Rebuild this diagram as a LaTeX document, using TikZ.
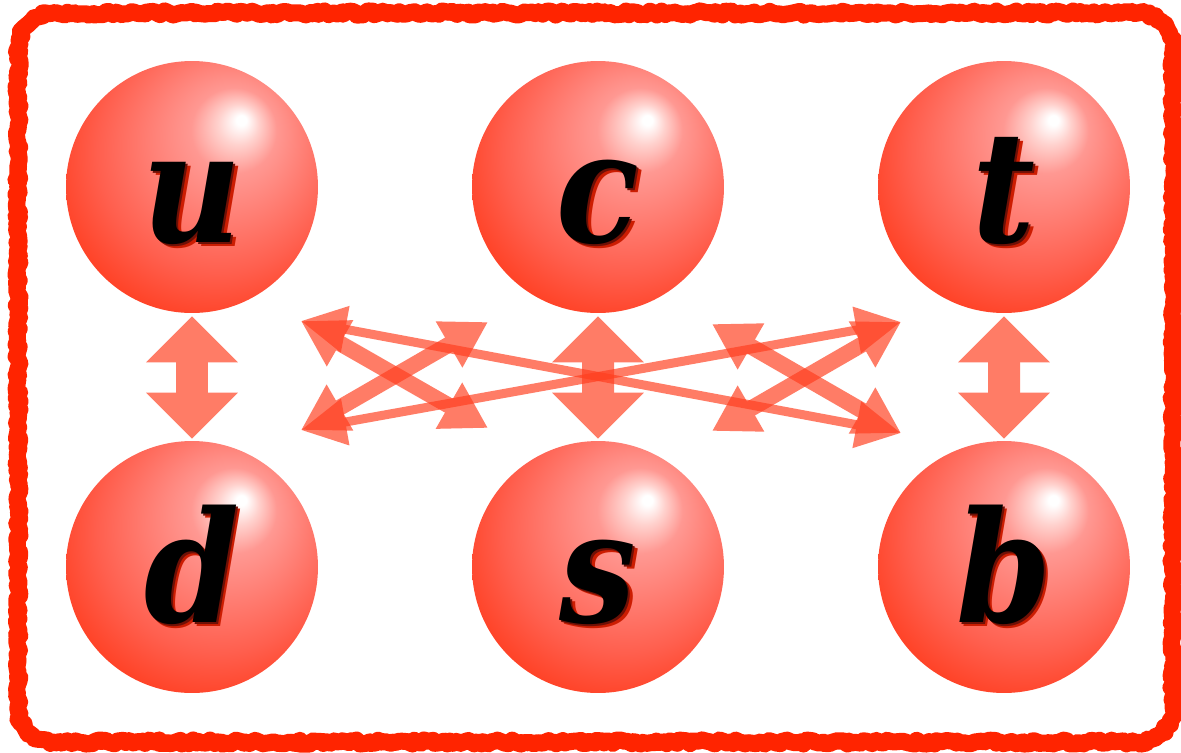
\documentclass[tikz,border=0pt]{standalone}
\usepackage{fontspec}
\usetikzlibrary{arrows.meta, decorations.pathmorphing}
\newfontfamily\quarkfont{DejaVu Serif}[FakeStretch=0.88]
\definecolor{qred}{RGB}{255,36,0}
\definecolor{qarrow}{RGB}{255,62,30}
\definecolor{qshade}{RGB}{110,16,6}
\pgfdeclareradialshading{quarkball}{\pgfpoint{10bp}{13.5bp}}{%
  color(0bp)=(white); color(1bp)=(white); color(4bp)=(rgb,255:red,255;green,210;blue,206);
  color(8.5bp)=(rgb,255:red,255;green,152;blue,146);
  color(15bp)=(rgb,255:red,255;green,128;blue,118); color(24bp)=(rgb,255:red,255;green,95;blue,78);
  color(33bp)=(rgb,255:red,255;green,60;blue,30); color(42bp)=(qred); color(50bp)=(qred)}
\newcommand{\qlbl}[1]{%
  \makebox[0pt][l]{\kern0.09cm\raisebox{-0.09cm}{\color{qshade!35!qred}#1}}%
  \makebox[0pt][l]{\kern0.045cm\raisebox{-0.045cm}{\color{qshade}#1}}#1}

\begin{document}
\begin{tikzpicture}[x=0.02cm, y=-0.02cm,
    quark/.style={circle, inner sep=0pt, minimum size=5.04cm, shading=quarkball,
                  font=\quarkfont\bfseries\itshape\fontsize{88}{88}\selectfont,
                  text height=2.2cm, text depth=0pt},
    frame/.style={draw=qred, line width=0.28cm, line join=round,
                  decorate, decoration={random steps, segment length=2pt, amplitude=1.2pt}},
    vmix/.style={qarrow, line width=0.64cm, shorten <=0.06cm, shorten >=0.04cm,
                 {Triangle[width=1.78cm, length=0.92cm]}-{Triangle[width=1.78cm, length=0.92cm]}},
    bigmix/.style={qarrow, line width=0.32cm,
                 {Triangle[width=1.0cm, length=0.9cm]}-{Triangle[width=1.0cm, length=0.9cm]}},
    smallmix/.style={qarrow, line width=0.18cm,
                 {Triangle[width=0.9cm, length=0.9cm]}-{Triangle[width=0.9cm, length=0.9cm]}}
  ]
  \useasboundingbox (0,0) rectangle (1181,752);
  \fill[white] (0,0) rectangle (1181,752);
  % -- frame --
  \foreach \w/\seg in {0.34cm/2pt, 0.24cm/3pt}{
    \draw[frame, line width=\w, decoration={segment length=\seg}]
      (53,13) -- (1138,13) arc[start angle=90, end angle=0, radius=0.7cm]
      -- (1173,707) arc[start angle=0, end angle=-90, radius=0.7cm]
      -- (53,742) arc[start angle=-90, end angle=-180, radius=0.7cm]
      -- (18,48) arc[start angle=180, end angle=90, radius=0.7cm] -- cycle;
  }
  % -- quarks --
  \node[quark] (u) at (192,187) {\qlbl{u}};
  \node[quark] (c) at (598,187) {\qlbl{c}};
  \node[quark] (t) at (1004,187) {\qlbl{t}};
  \node[quark] (d) at (192,567) {\qlbl{d}};
  \node[quark] (s) at (598,567) {\qlbl{s}};
  \node[quark] (b) at (1004,567) {\qlbl{b}};
  % -- vertical pairs --
  \foreach \a/\b in {u/d, c/s, t/b}{
    \begin{scope}[transparency group, opacity=0.68]
      \draw[vmix] (\a) -- (\b);
    \end{scope}
  }
  % -- crossing arrows --
  \coordinate (lt) at (301,321);  \coordinate (lb) at (301,430);
  \coordinate (mlt) at (488,322); \coordinate (mlb) at (488,428);
  \coordinate (mrt) at (712,324); \coordinate (mrb) at (712,431);
  \coordinate (rt) at (901,322);  \coordinate (rb) at (901,433);
  \foreach \a/\b/\s in {lt/mlb/bigmix, lb/mlt/bigmix, mrt/rb/bigmix, mrb/rt/bigmix,
                        lt/rb/smallmix, lb/rt/smallmix}{
    \begin{scope}[transparency group, opacity=0.68]
      \draw[\s] (\a) -- (\b);
    \end{scope}
  }
\end{tikzpicture}
\end{document}
